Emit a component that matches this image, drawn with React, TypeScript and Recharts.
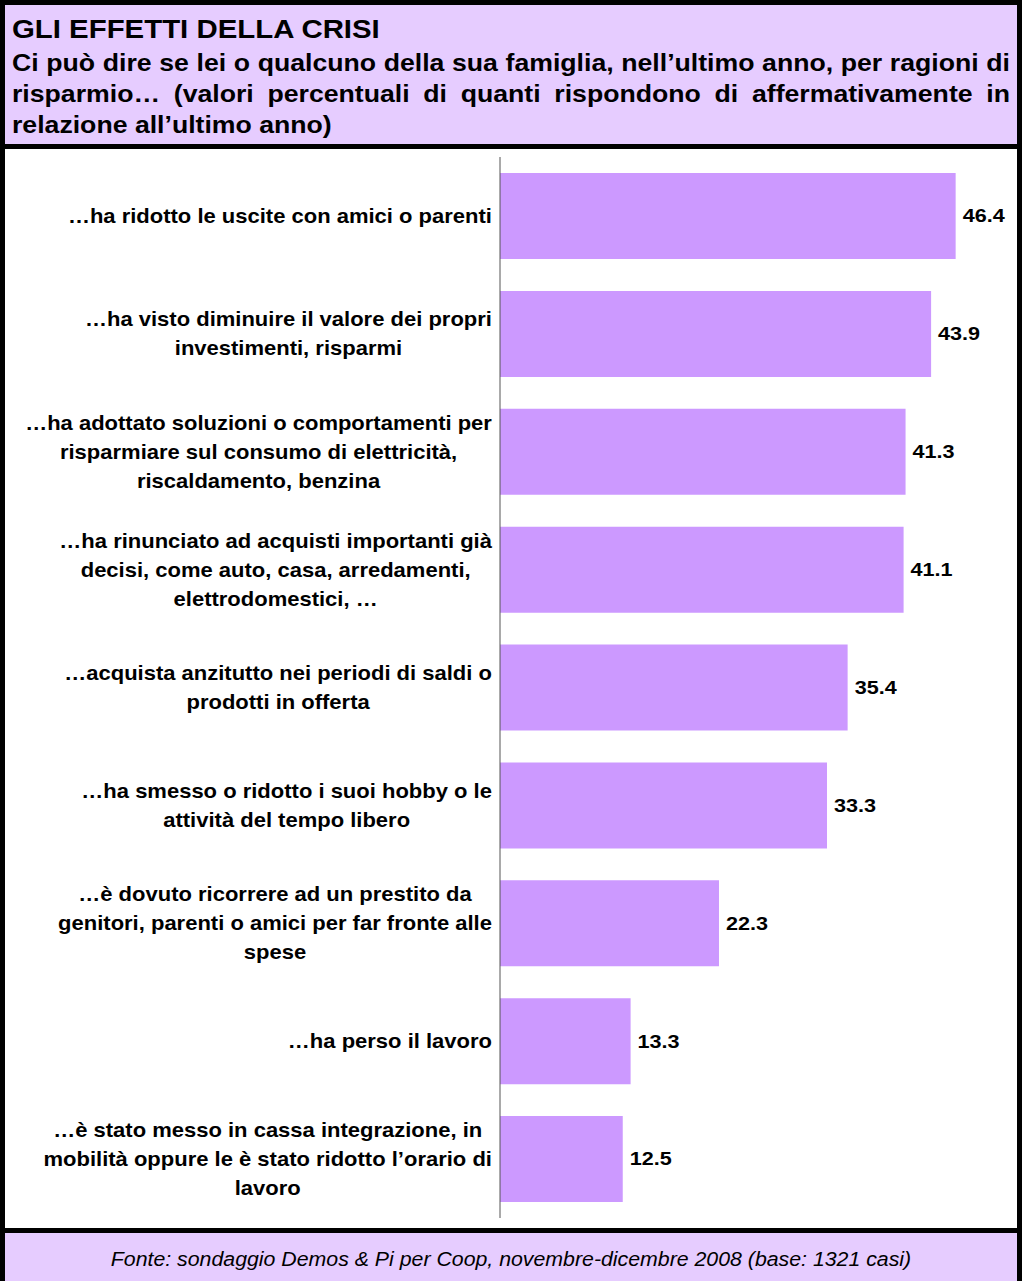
import React from "react";
import { BarChart, Bar, XAxis, YAxis, LabelList } from "recharts";

// category labels, already broken into the lines used in the picture
const categories: string[][] = [
  ["…ha ridotto le uscite con amici o parenti"],
  ["…ha visto diminuire il valore dei propri", "investimenti, risparmi"],
  [
    "…ha adottato soluzioni o comportamenti per",
    "risparmiare sul consumo di elettricità,",
    "riscaldamento, benzina",
  ],
  [
    "…ha rinunciato ad acquisti importanti già",
    "decisi, come auto, casa, arredamenti,",
    "elettrodomestici, …",
  ],
  ["…acquista anzitutto nei periodi di saldi o", "prodotti in offerta"],
  ["…ha smesso o ridotto i suoi hobby o le", "attività del tempo libero"],
  [
    "…è dovuto ricorrere ad un prestito da",
    "genitori, parenti o amici per far fronte alle",
    "spese",
  ],
  ["…ha perso il lavoro"],
  [
    "…è stato messo in cassa integrazione, in",
    "mobilità oppure le è stato ridotto l’orario di",
    "lavoro",
  ],
];

const values = [46.4, 43.9, 41.3, 41.1, 35.4, 33.3, 22.3, 13.3, 12.5];

const xDomain = [0, 50];

const titleText = "GLI EFFETTI DELLA CRISI";
const subtitleLines = [
  "Ci può dire se lei o qualcuno della sua famiglia, nell’ultimo anno, per ragioni di",
  "risparmio… (valori percentuali di quanti rispondono di affermativamente in",
  "relazione all’ultimo anno)",
];
const sourceText =
  "Fonte: sondaggio Demos & Pi per Coop, novembre-dicembre 2008 (base: 1321 casi)";

const data = categories.map((lines, i) => ({
  name: lines.join(" "),
  value: values[i],
}));

const linesByName: Record<string, string[]> = {};
categories.forEach((lines) => {
  linesByName[lines.join(" ")] = lines;
});

const FONT = "'Liberation Sans', Arial, Helvetica, sans-serif";
const LILAC = "#E6CCFF";
const BAR = "#CC99FF";
const LABEL_SIZE = 20;
const LABEL_SX = 1.1;
const VALUE_SIZE = 18;
const VALUE_SX = 1.2;

let ctx: CanvasRenderingContext2D | null = null;
function measure(text: string, font: string) {
  if (!ctx) ctx = document.createElement("canvas").getContext("2d");
  if (!ctx) return text.length * 10;
  ctx.font = font;
  return ctx.measureText(text).width;
}

const CategoryTick = (props: any) => {
  const { x, y, payload } = props;
  const lines = linesByName[payload.value] || [String(payload.value)];
  const font = `bold ${LABEL_SIZE}px ${FONT}`;
  const maxW = Math.max(...lines.map((l) => measure(l, font))) * LABEL_SX;
  const cx = x - maxW / 2;
  const lh = 29;
  const y0 = y - ((lines.length - 1) * lh) / 2;
  return (
    <g>
      {lines.map((l, i) => (
        <text
          key={i}
          transform={`translate(${cx},${y0 + i * lh}) scale(${LABEL_SX},1)`}
          textAnchor="middle"
          dominantBaseline="central"
          fontSize={LABEL_SIZE}
          fontWeight="bold"
          fontFamily={FONT}
          fill="#000"
        >
          {l}
        </text>
      ))}
    </g>
  );
};

const ValueLabel = (props: any) => {
  const { x, y, width, height, value } = props;
  return (
    <text
      transform={`translate(${x + width + 7},${y + height / 2}) scale(${VALUE_SX},1)`}
      dominantBaseline="central"
      fontSize={VALUE_SIZE}
      fontWeight="bold"
      fontFamily={FONT}
      fill="#000"
    >
      {Number(value).toFixed(1)}
    </text>
  );
};

const SUB_SX = 1.11;

const App: React.FC = () => {
  return (
    <div
      style={{
        position: "absolute",
        left: 0,
        top: 0,
        width: 1022,
        height: 1281,
        background: "#000",
        overflow: "hidden",
        fontFamily: FONT,
      }}
    >
      {/* header */}
      <div
        style={{
          position: "absolute",
          left: 5,
          top: 5,
          width: 1012,
          height: 139,
          background: LILAC,
        }}
      >
        <div
          style={{
            position: "absolute",
            left: 7,
            top: 9,
            fontSize: 26,
            fontWeight: "bold",
            lineHeight: "30px",
            whiteSpace: "nowrap",
            transform: "scaleX(1.13)",
            transformOrigin: "left center",
          }}
        >
          {titleText}
        </div>
        {subtitleLines.map((line, i) => (
          <div
            key={i}
            style={{
              position: "absolute",
              left: 7,
              top: 41.5 + i * 31,
              width: 998 / SUB_SX,
              fontSize: 24,
              fontWeight: "bold",
              lineHeight: "31px",
              whiteSpace: "nowrap",
              textAlign: i < subtitleLines.length - 1 ? "justify" : "left",
              textAlignLast: i < subtitleLines.length - 1 ? "justify" : "left",
              transform: `scaleX(${SUB_SX})`,
              transformOrigin: "left center",
            }}
          >
            {line}
          </div>
        ))}
      </div>

      {/* chart */}
      <div
        style={{
          position: "absolute",
          left: 5,
          top: 149,
          width: 1012,
          height: 1079,
          background: "#fff",
        }}
      >
        <BarChart
          width={1012}
          height={1079}
          data={data}
          layout="vertical"
          margin={{ top: 8, right: 26, bottom: 10, left: 0 }}
        >
          <XAxis type="number" domain={xDomain} hide />
          <YAxis
            type="category"
            dataKey="name"
            width={495}
            tickSize={0}
            tickMargin={8}
            tickLine={false}
            axisLine={{ stroke: "#555", strokeWidth: 1 }}
            tick={<CategoryTick />}
            interval={0}
          />
          <Bar dataKey="value" fill={BAR} barSize={86} isAnimationActive={false}>
            <LabelList dataKey="value" content={<ValueLabel />} />
          </Bar>
        </BarChart>
      </div>

      {/* footer */}
      <div
        style={{
          position: "absolute",
          left: 5,
          top: 1233,
          width: 1012,
          height: 60,
          background: LILAC,
        }}
      >
        <div
          style={{
            position: "absolute",
            left: 0,
            top: 13,
            width: 1012,
            textAlign: "center",
            fontSize: 20,
            fontStyle: "italic",
            lineHeight: "26px",
            whiteSpace: "nowrap",
            transform: "scaleX(1.065)",
            transformOrigin: "center center",
          }}
        >
          {sourceText}
        </div>
      </div>
    </div>
  );
};

export default App;
